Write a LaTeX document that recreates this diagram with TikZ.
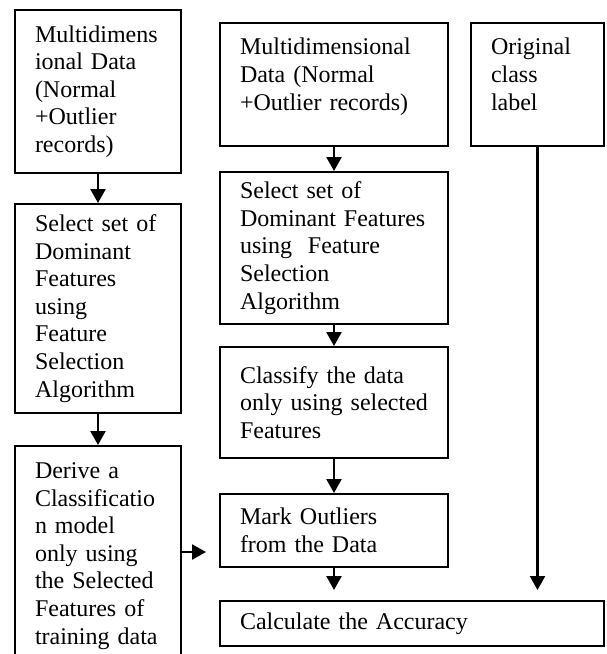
\documentclass[tikz,border=0pt]{standalone}
\usepackage{fontspec}
\setmainfont{Liberation Serif}
\usetikzlibrary{arrows.meta}

\begin{document}
\begin{tikzpicture}[x=0.5pt, y=-0.5pt,
    procbox/.style={draw, line width=1pt, anchor=north west, align=left,
        inner xsep=10pt, inner ysep=2pt, font=\fontsize{12}{13.8}\selectfont},
    flow/.style={-{Triangle[length=7pt,width=7.5pt]}, line width=1.2pt}]
    \useasboundingbox (0,0) rectangle (606,654);

    % Training track
    \node[procbox, text width=63pt, minimum height=81.5pt]
        (lraw) at (14,9) {Multidimens\\ional Data\\(Normal\\+Outlier\\records)};
    \node[procbox, text width=63pt, minimum height=104.5pt]
        (lselect) at (14,203) {Select set of\\Dominant\\Features\\using\\Feature\\Selection\\Algorithm};
    \node[procbox, text width=63pt, minimum height=110pt]
        (lmodel) at (14,445) {Derive a\\Classificatio\\n model\\only using\\the Selected\\Features of\\training data};

    \draw[flow] (lraw) -- (lselect);
    \draw[flow] (lselect) -- (lmodel);

    % Testing track
    \node[procbox, text width=94pt, minimum height=61.5pt, text depth=38pt]
        (mraw) at (219,22) {Multidimensional\\Data (Normal\\+Outlier records)};
    \node[procbox, text width=94pt, minimum height=76pt]
        (mselect) at (219,171) {Select set of\\Dominant Features\\using\ \ Feature\\Selection\\Algorithm};
    \node[procbox, text width=94pt, minimum height=55.5pt]
        (mclassify) at (219,346) {Classify the data\\only using selected\\Features};
    \node[procbox, text width=94pt, minimum height=36.5pt]
        (mmark) at (219,493) {Mark Outliers\\from the Data};

    \draw[flow] (mraw) -- (mselect);
    \draw[flow] (mselect) -- (mclassify);
    \draw[flow] (mclassify) -- (mmark);

    % Class labels and accuracy
    \node[procbox, text width=46.5pt, minimum height=61.5pt, text depth=38pt]
        (label) at (470,22) {Original\\class\\label};
    \node[procbox, text width=172pt, minimum height=22.5pt]
        (accuracy) at (219,600) {Calculate the Accuracy};

    \draw[flow, shorten >=6.5pt] ([yshift=2pt]lmodel.east) -- ([yshift=2pt]lmodel.east -| mmark.west);
    \draw[flow, shorten >=5pt] (mmark) -- (mmark.south |- accuracy.north);
    \draw[flow, shorten >=5pt] (label) -- (label.south |- accuracy.north);
\end{tikzpicture}
\end{document}
